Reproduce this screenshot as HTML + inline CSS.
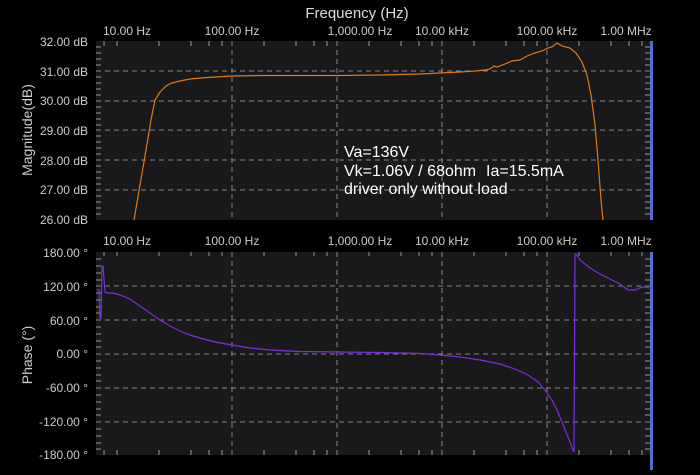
<!DOCTYPE html>
<html><head><meta charset="utf-8"><style>
body{margin:0;background:#000;width:700px;height:470px;overflow:hidden;font-family:"Liberation Sans",sans-serif}
</style></head><body>
<svg width="700" height="470" xmlns="http://www.w3.org/2000/svg" font-family="Liberation Sans, sans-serif">
<rect width="700" height="470" fill="#000"/>
<text x="357" y="18" fill="#ddd" font-size="15" text-anchor="middle">Frequency (Hz)</text>
<rect x="96" y="41" width="556" height="179" fill="#19191c"/>
<g stroke="#888" stroke-dasharray="5,4" stroke-width="1">
<line x1="96" x2="652" y1="71" y2="71"/><line x1="96" x2="652" y1="101" y2="101"/><line x1="96" x2="652" y1="130" y2="130"/><line x1="96" x2="652" y1="160" y2="160"/><line x1="96" x2="652" y1="190" y2="190"/>
<line x1="232" x2="232" y1="41" y2="220"/><line x1="337" x2="337" y1="41" y2="220"/><line x1="442" x2="442" y1="41" y2="220"/><line x1="547" x2="547" y1="41" y2="220"/>
</g>
<rect x="96" y="220" width="556" height="32" fill="#000"/>
<rect x="96" y="252" width="556" height="203" fill="#19191c"/>
<g stroke="#888" stroke-dasharray="5,4" stroke-width="1">
<line x1="96" x2="652" y1="286" y2="286"/><line x1="96" x2="652" y1="320" y2="320"/><line x1="96" x2="652" y1="354" y2="354"/><line x1="96" x2="652" y1="388" y2="388"/><line x1="96" x2="652" y1="422" y2="422"/>
<line x1="232" x2="232" y1="252" y2="455"/><line x1="337" x2="337" y1="252" y2="455"/><line x1="442" x2="442" y1="252" y2="455"/><line x1="547" x2="547" y1="252" y2="455"/>
</g>
<g stroke="#999" stroke-width="1">
<path d="M96 47h5M96 53h5M96 59h5M96 65h5M96 77h5M96 83h5M96 89h5M96 95h5M96 107h5M96 113h5M96 119h5M96 125h5M96 136h5M96 142h5M96 148h5M96 154h5M96 166h5M96 172h5M96 178h5M96 184h5M96 196h5M96 202h5M96 208h5M96 214h5"/>
<path d="M96 259h5M96 266h5M96 273h5M96 280h5M96 293h5M96 300h5M96 307h5M96 313h5M96 327h5M96 334h5M96 341h5M96 347h5M96 361h5M96 368h5M96 375h5M96 381h5M96 395h5M96 402h5M96 409h5M96 415h5M96 429h5M96 436h5M96 443h5M96 449h5"/>
<path d="M645 47h5M645 53h5M645 59h5M645 65h5M645 77h5M645 83h5M645 89h5M645 95h5M645 107h5M645 113h5M645 119h5M645 125h5M645 136h5M645 142h5M645 148h5M645 154h5M645 166h5M645 172h5M645 178h5M645 184h5M645 196h5M645 202h5M645 208h5M645 214h5"/>
<path d="M645 259h5M645 266h5M645 273h5M645 280h5M645 293h5M645 300h5M645 307h5M645 313h5M645 327h5M645 334h5M645 341h5M645 347h5M645 361h5M645 368h5M645 375h5M645 381h5M645 395h5M645 402h5M645 409h5M645 415h5M645 429h5M645 436h5M645 443h5M645 449h5"/>
<path d="M104 41v5M117 41v5M159 41v5M191 41v5M209 41v5M222 41v5M264 41v5M296 41v5M314 41v5M327 41v5M369 41v5M401 41v5M419 41v5M432 41v5M474 41v5M506 41v5M524 41v5M537 41v5M579 41v5M611 41v5M629 41v5M642 41v5"/>
<path d="M104 455v-5M117 455v-5M159 455v-5M191 455v-5M209 455v-5M222 455v-5M264 455v-5M296 455v-5M314 455v-5M327 455v-5M369 455v-5M401 455v-5M419 455v-5M432 455v-5M474 455v-5M506 455v-5M524 455v-5M537 455v-5M579 455v-5M611 455v-5M629 455v-5M642 455v-5"/>
<path d="M104 252v4M117 252v4M159 252v4M191 252v4M209 252v4M222 252v4M264 252v4M296 252v4M314 252v4M327 252v4M369 252v4M401 252v4M419 252v4M432 252v4M474 252v4M506 252v4M524 252v4M537 252v4M579 252v4M611 252v4M629 252v4M642 252v4"/>
</g>
<rect x="650" y="41" width="3" height="179" fill="#5a6ccc"/>
<rect x="650" y="252" width="3" height="218" fill="#5a6ccc"/>
<g fill="#ccc" font-size="12" text-anchor="end">
<text x="88" y="46">32.00 dB</text><text x="88" y="76">31.00 dB</text><text x="88" y="105">30.00 dB</text><text x="88" y="135">29.00 dB</text><text x="88" y="165">28.00 dB</text><text x="88" y="194">27.00 dB</text><text x="88" y="224">26.00 dB</text>
<text x="88" y="257">180.00 °</text><text x="88" y="291">120.00 °</text><text x="88" y="325">60.00 °</text><text x="88" y="358">0.00 °</text><text x="88" y="392">-60.00 °</text><text x="88" y="426">-120.00 °</text><text x="88" y="459">-180.00 °</text>
</g>
<g fill="#ccc" font-size="12" text-anchor="middle">
<text x="127" y="35">10.00 Hz</text><text x="232" y="35">100.00 Hz</text><text x="360" y="35">1,000.00 Hz</text><text x="442" y="35">10.00 kHz</text><text x="547" y="35">100.00 kHz</text><text x="626" y="35">1.00 MHz</text>
<text x="127" y="245">10.00 Hz</text><text x="232" y="245">100.00 Hz</text><text x="360" y="245">1,000.00 Hz</text><text x="442" y="245">10.00 kHz</text><text x="547" y="245">100.00 kHz</text><text x="626" y="245">1.00 MHz</text>
</g>
<text transform="translate(32,130) rotate(-90)" fill="#ccc" font-size="14" text-anchor="middle">Magnitude(dB)</text>
<text transform="translate(32,355) rotate(-90)" fill="#ccc" font-size="14" text-anchor="middle">Phase (°)</text>
<polyline fill="none" stroke="#e07818" stroke-width="1.2" points="134,220 140,185 146,150 151,120 155,100 160,92 166,86 172,83 180,81 190,79 200,78 215,77 232,76 260,75.5 300,75.5 340,75.5 380,75 420,74 440,73 460,72 475,71 485,70 490,69 494,66 497,67 505,64 512,61 520,60 527,56 535,53 542,51 548,48 552,47 557,43 562,46 570,48 576,53 582,62 587,75 591,95 595,125 598,160 601,200 603,220"/>
<polyline fill="none" stroke="#7a2ee0" stroke-width="1.2" points="97,289 99,290 100,318 101,318 102,266 103,266 105,292 107,293 113,293 120,295 130,299 140,306 150,313 160,320 170,326 180,331 190,335 200,338 215,342 232,345 250,348 270,350 300,351.5 340,352 380,352.5 420,353.5 440,355 460,357 480,360 500,364 515,369 528,375 538,382 545,390 552,400 557,410 562,422 566,432 570,442 573,450 574,452 575,254 576,254 580,260 590,268 600,274 610,279 620,284 628,290 635,290 642,287 652,288"/>
<g fill="#fff" font-size="16">
<text x="344" y="157">Va=136V</text>
<text x="344" y="176">Vk=1.06V / 68ohm</text>
<text x="486" y="176">Ia=15.5mA</text>
<text x="344" y="194">driver only without load</text>
</g>
</svg>
</body></html>
